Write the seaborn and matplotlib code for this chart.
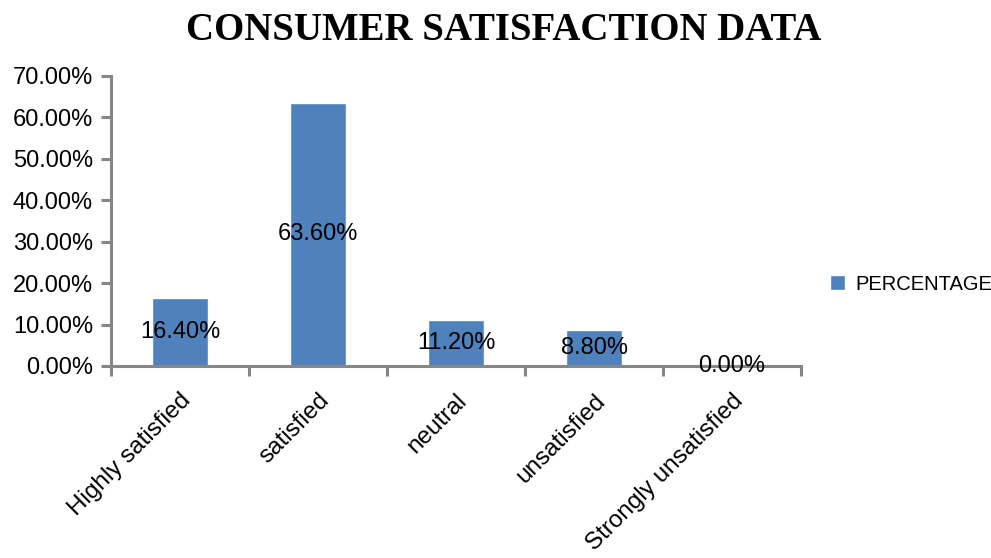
import matplotlib
matplotlib.use("Agg")
import matplotlib.pyplot as plt
import seaborn as sns
from matplotlib.patches import Patch
from matplotlib.ticker import FixedLocator, FuncFormatter

categories = ["Highly satisfied", "satisfied", "neutral", "unsatisfied", "Strongly unsatisfied"]
percentages = [16.40, 63.60, 11.20, 8.80, 0.00]
series_name = "PERCENTAGE"

bar_color = "#4F81BD"
axis_color = "#868686"

sns.set_style("white")
plt.rcParams["font.family"] = ["Liberation Sans", "DejaVu Sans"]
plt.rcParams["text.color"] = "black"
plt.rcParams["xtick.color"] = "black"
plt.rcParams["ytick.color"] = "black"

fig = plt.figure(figsize=(9.91, 5.58), dpi=100)
ax = fig.add_axes([111 / 991, 1 - 366 / 558, 690 / 991, 290 / 558])

sns.barplot(x=categories, y=percentages, color=bar_color, width=0.41,
            saturation=1, ax=ax)

ax.set_xlim(-0.5, len(categories) - 0.5)
ax.set_ylim(0, 70)
ax.set_yticks(range(0, 71, 10))
ax.yaxis.set_major_formatter(FuncFormatter(lambda v, _: f"{v:.2f}%"))

# category boundaries get the tick marks, labels stay at centres
ax.xaxis.set_minor_locator(FixedLocator([i - 0.5 for i in range(len(categories) + 1)]))
ax.tick_params(axis="x", which="major", bottom=True, length=0, pad=17, labelcolor="black")
ax.tick_params(axis="x", which="minor", bottom=True, length=7, width=2.2,
               color=axis_color, direction="out")
ax.tick_params(axis="y", left=True, length=7, width=2.2, color=axis_color,
               direction="out", pad=6, labelsize=17, labelcolor="black")
ax.set_xticks(range(len(categories)))
ax.set_xticklabels(categories, rotation=45, ha="right", va="top",
                   rotation_mode="anchor", fontsize=17.5, color="black")

for side in ["top", "right"]:
    ax.spines[side].set_visible(False)
for side in ["left", "bottom"]:
    ax.spines[side].set_color(axis_color)
    ax.spines[side].set_linewidth(2.2)
ax.set_xlabel("")
ax.set_ylabel("")

for i, v in enumerate(percentages):
    ax.text(i, v / 2, f"{v:.2f}%", ha="center", va="center", fontsize=17,
            color="black", zorder=5)

fig.text(504 / 991, 1 - 31 / 558, "CONSUMER SATISFACTION DATA", ha="center", va="center",
         fontsize=28, fontweight="bold", family="Liberation Serif", color="black")

fig.legend(handles=[Patch(facecolor=bar_color, label=series_name)], loc="center left",
           bbox_to_anchor=(812 / 991, 1 - 284 / 558), frameon=False, fontsize=14.5,
           handlelength=0.75, handleheight=0.75, handletextpad=0.5,
           labelcolor="black")

fig.savefig("out.png", dpi=100)
